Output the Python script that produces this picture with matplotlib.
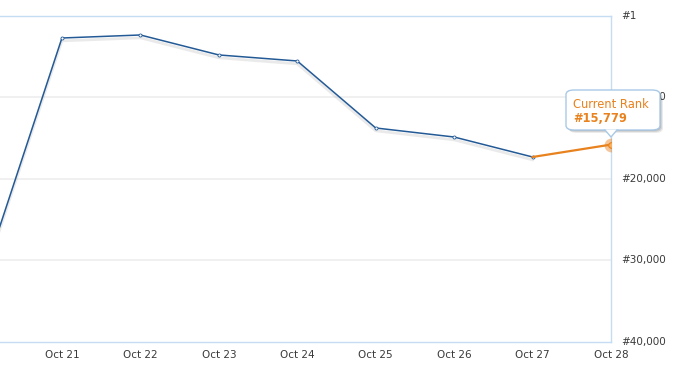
import numpy as np
import matplotlib.pyplot as plt
from matplotlib.patches import FancyBboxPatch, Polygon

days = ['Oct 20', 'Oct 21', 'Oct 22', 'Oct 23', 'Oct 24', 'Oct 25', 'Oct 26', 'Oct 27', 'Oct 28']
ranks = [31900, 2700, 2330, 4780, 5520, 13740, 14850, 17300, 15779]
ytick_vals = [1, 10000, 20000, 30000, 40000]
ytick_labels = ['#1', '#10,000', '#20,000', '#30,000', '#40,000']

W, H = 677, 376
fig = plt.figure(figsize=(W / 100, H / 100), dpi=100)
plt.rcParams['font.family'] = ['DejaVu Sans']

# plot area runs off the left edge, like the original widget
left, right, top, bottom = -16.5, 611, 16, 342
ax = fig.add_axes([left / W, 1 - bottom / H, (right - left) / W, (bottom - top) / H])

x = np.arange(len(days))
blue, orange = '#235a96', '#e8821e'

# faint shadow under the line
ax.plot(x[:-1], np.array(ranks[:-1]) + 350, color='#999999', lw=2, alpha=0.2, zorder=2)
ax.plot(x[:-1], ranks[:-1], color=blue, lw=1.1, marker='o', ms=2.2, mfc='white', mec=blue, mew=0.6, zorder=3)
ax.plot(x[-2:], ranks[-2:], color=orange, lw=1.6, zorder=4)
ax.plot(x[-1], ranks[-1], 'o', ms=10, color=orange, alpha=0.45, mew=0, zorder=5)
ax.plot(x[-1], ranks[-1], 'o', ms=4, mfc='#f6b060', mec=orange, mew=0.8, zorder=6)

ax.set_xlim(0, len(days) - 1)
ax.set_ylim(40000, 1)
ax.set_xticks(x)
ax.set_xticklabels(days)
ax.set_yticks(ytick_vals)
ax.set_yticklabels(ytick_labels)
ax.yaxis.tick_right()
ax.tick_params(axis='both', length=0, labelsize=7.5, labelcolor='#3a3a3a')
ax.tick_params(axis='x', pad=6)
ax.tick_params(axis='y', pad=7)
for t in ax.get_yticklabels():
    t.set_verticalalignment('center')

for v in ytick_vals[1:-1]:
    ax.axhline(v, color='#eeeeee', lw=1.2, zorder=1)

ax.spines['left'].set_visible(False)
for s in ['top', 'bottom', 'right']:
    ax.spines[s].set_color('#c5dcf2')
    ax.spines[s].set_linewidth(1)

# tooltip with a soft shadow
bx0, bx1, by0, by1 = 566, 660, 90, 130
for off, a in [(3, 0.08), (2, 0.1), (1, 0.12)]:
    sh = FancyBboxPatch(((bx0 + off) / W, 1 - (by1 + off) / H), (bx1 - bx0) / W, (by1 - by0) / H,
                        boxstyle='round,pad=0,rounding_size=0.012', transform=fig.transFigure,
                        fc='black', ec='none', alpha=a, zorder=9)
    fig.patches.append(sh)
box = FancyBboxPatch((bx0 / W, 1 - by1 / H), (bx1 - bx0) / W, (by1 - by0) / H,
                     boxstyle='round,pad=0,rounding_size=0.012', transform=fig.transFigure,
                     fc='white', ec='#a9c9e6', lw=1, zorder=10)
fig.patches.append(box)
tri = Polygon([(605 / W, 1 - 129.5 / H), (617 / W, 1 - 129.5 / H), (611 / W, 1 - 137 / H)],
              closed=True, transform=fig.transFigure, fc='white', ec='none', zorder=11)
fig.patches.append(tri)
fig.lines.append(plt.Line2D([605 / W, 611 / W, 617 / W], [1 - 130 / H, 1 - 137 / H, 1 - 130 / H],
                            transform=fig.transFigure, color='#a9c9e6', lw=1, zorder=12))
fig.text(573 / W, 1 - 104 / H, 'Current Rank', color=orange, fontsize=8.3, va='center', zorder=13)
fig.text(573 / W, 1 - 118 / H, '#15,779', color=orange, fontsize=8.3, fontweight='bold', va='center', zorder=13)

fig.savefig('out.png', dpi=100)
